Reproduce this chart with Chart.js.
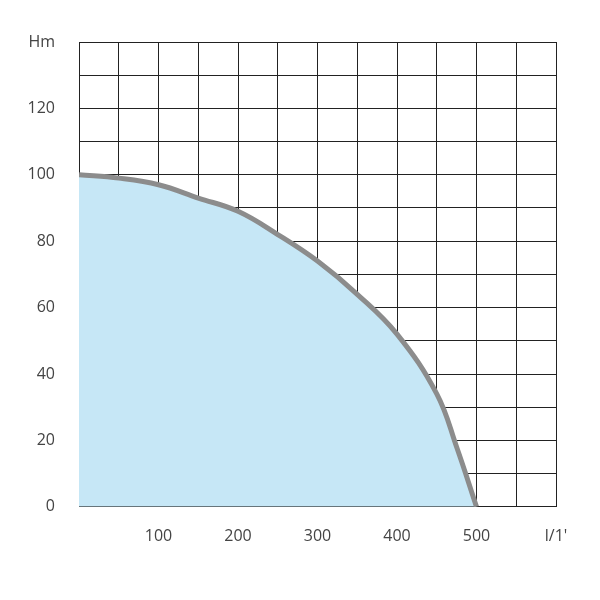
<!DOCTYPE html><html><head><script src="https://cdn.jsdelivr.net/npm/chart.js"></script>
<style>body{margin:0;background:#fff}#w{width:600px;height:600px}</style></head><body><div id="w"><canvas id="c"></canvas></div>
<script>
const flow=[0,50,100,150,200,250,300,350,400,450,475,500];
const head=[100,99,97,93,89,82,74,64,52,34,18,0];
const xLabels={100:'100',200:'200',300:'300',400:'400',500:'500',600:"l/1'"};
const yLabels={0:'0',20:'20',40:'40',60:'60',80:'80',100:'100',120:'120',140:'Hm'};
new Chart(document.getElementById('c'),{type:'scatter',
data:{datasets:[{data:flow.map((x,i)=>({x,y:head[i]})),showLine:true,fill:'origin',backgroundColor:'#c6e7f6',borderColor:'#8c8c8c',borderWidth:5,pointRadius:0,tension:0.4}]},
options:{responsive:true,maintainAspectRatio:false,animation:false,
layout:{padding:{left:0,right:44,top:42,bottom:34}},
plugins:{legend:{display:false},tooltip:{enabled:false}},
scales:{
x:{type:'linear',min:0,max:600,z:1,grid:{color:'#222',lineWidth:1,drawTicks:false},border:{color:'#222'},
ticks:{stepSize:50,autoSkip:false,maxRotation:0,padding:20,color:'#444',font:{family:'Open Sans',size:16},callback:v=>xLabels[v]||''}},
y:{min:0,max:140,z:1,afterFit:s=>{s.width=79},grid:{color:'#222',lineWidth:1,drawTicks:false},border:{color:'#222'},
ticks:{stepSize:10,autoSkip:false,padding:24,color:'#444',font:{family:'Open Sans',size:16},callback:v=>yLabels[v]||''}}
}}});
</script></body></html>
